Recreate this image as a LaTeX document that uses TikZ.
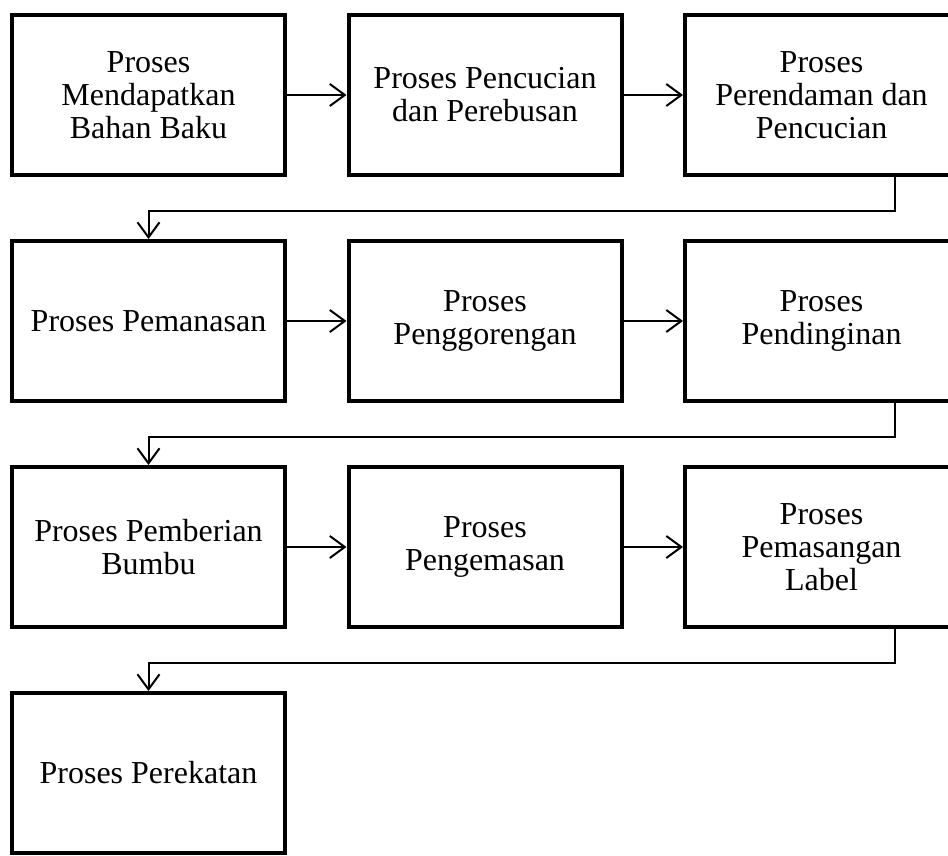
\documentclass[tikz,border=0pt]{standalone}
\usepackage{fontspec}
\setmainfont{Liberation Serif}
\usetikzlibrary{arrows.meta}

\begin{document}
\begin{tikzpicture}[x=1pt,y=-1pt,
  proses/.style={draw, line width=4pt, minimum width=273pt, minimum height=160pt,
    align=center, inner sep=0pt, font=\fontsize{32}{33}\selectfont},
  panah/.style={line width=2pt, -{Straight Barb[length=15pt,width=22pt]}}]
\useasboundingbox (0,0) rectangle (948,856);
\clip (0,0) rectangle (948,856);
\node[proses] (b1) at (148.5,95) {Proses\\Mendapatkan\\Bahan Baku};
\node[proses] (b2) at (485,95) {Proses Pencucian\\dan Perebusan};
\node[proses] (b3) at (821.5,95) {Proses\\Perendaman dan\\Pencucian};
\node[proses] (b4) at (148.5,321) {Proses Pemanasan};
\node[proses] (b5) at (485,321) {Proses\\Penggorengan};
\node[proses] (b6) at (821.5,321) {Proses\\Pendinginan};
\node[proses] (b7) at (148.5,547) {Proses Pemberian\\Bumbu};
\node[proses] (b8) at (485,547) {Proses\\Pengemasan};
\node[proses] (b9) at (821.5,547) {Proses\\Pemasangan\\Label};
\node[proses] (b10) at (148.5,773) {Proses Perekatan};
\foreach \a/\b in {b1/b2,b2/b3,b4/b5,b5/b6,b7/b8,b8/b9}
\draw[panah] (\a) -- (\b);
\foreach \a/\b in {b3/b4,b6/b7,b9/b10}
\draw[panah] ([xshift=73.5pt]\a.south) -- ++(0,34) -| (\b.north);
\end{tikzpicture}
\end{document}
